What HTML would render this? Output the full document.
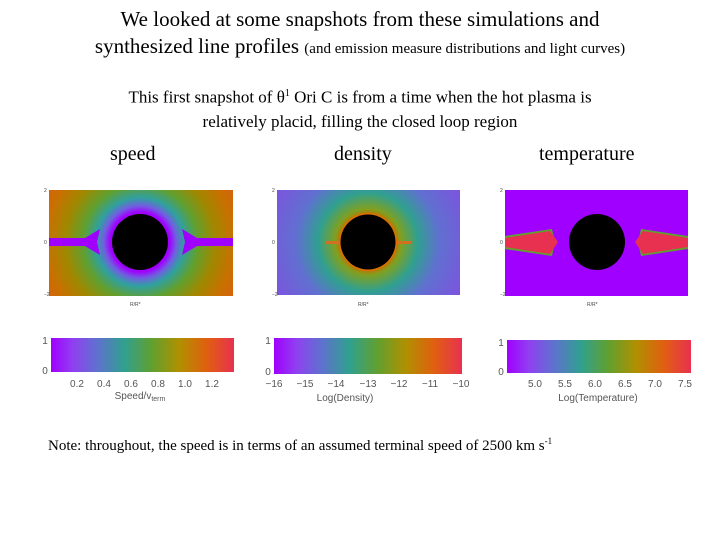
<!DOCTYPE html>
<html><head><meta charset="utf-8"><style>
body{margin:0;background:#fff;width:720px;height:540px;overflow:hidden;font-family:"Liberation Serif",serif;}
.t{position:absolute;left:0;width:720px;text-align:center;color:#000;}
</style></head><body>
<div class="t" style="top:6px;font-size:21px;line-height:27px">We looked at some snapshots from these simulations and<br>synthesized line profiles <span style="font-size:15px">(and emission measure distributions and light curves)</span></div>
<div class="t" style="top:82px;font-size:17px;line-height:24px">This first snapshot of θ<sup style="font-size:10px">1</sup> Ori C is from a time when the hot plasma is<br>relatively placid, filling the closed loop region</div>
<div style="position:absolute;left:110px;top:143px;font-size:20px">speed</div>
<div style="position:absolute;left:334px;top:143px;font-size:20px">density</div>
<div style="position:absolute;left:539px;top:143px;font-size:20px">temperature</div>
<div style="position:absolute;left:48px;top:436px;font-size:15px">Note: throughout, the speed is in terms of an assumed terminal speed of 2500 km s<sup style="font-size:9px">-1</sup></div>
<svg width="720" height="540" style="position:absolute;left:0;top:0" font-family="Liberation Sans,sans-serif">
<defs>
<linearGradient id="rb" x1="0" x2="1" y1="0" y2="0">
<stop offset="0" stop-color="#a000ff"/><stop offset="0.12" stop-color="#9040f0"/><stop offset="0.25" stop-color="#6070d0"/><stop offset="0.4" stop-color="#30a090"/><stop offset="0.55" stop-color="#60a030"/><stop offset="0.7" stop-color="#b09000"/><stop offset="0.85" stop-color="#e06010"/><stop offset="1" stop-color="#e83050"/>
</linearGradient>
<radialGradient id="sp" cx="140" cy="242" r="110" gradientUnits="userSpaceOnUse">
<stop offset="0.27" stop-color="#a000ff"/><stop offset="0.33" stop-color="#7060e0"/><stop offset="0.4" stop-color="#30a0a0"/><stop offset="0.52" stop-color="#60a030"/><stop offset="0.68" stop-color="#a08800"/><stop offset="0.85" stop-color="#c87000"/><stop offset="1" stop-color="#d86010"/>
</radialGradient>
<radialGradient id="de" cx="368" cy="242" r="110" gradientUnits="userSpaceOnUse">
<stop offset="0.25" stop-color="#c07000"/><stop offset="0.3" stop-color="#80a020"/><stop offset="0.45" stop-color="#30a090"/><stop offset="0.65" stop-color="#6070d0"/><stop offset="1" stop-color="#8050e0"/>
</radialGradient>
</defs>
<!-- speed -->
<rect x="49" y="190" width="184" height="106" fill="url(#sp)"/>
<polygon points="49,238 85,238 100,229 97,242 100,255 85,246 49,246" fill="#a000ff"/>
<polygon points="233,238 197,238 182,229 185,242 182,255 197,246 233,246" fill="#a000ff"/>
<circle cx="140" cy="242" r="28" fill="#000"/>
<!-- density -->
<rect x="277" y="190" width="183" height="105" fill="url(#de)"/>
<rect x="325" y="241" width="86" height="3" fill="#d07020"/>
<circle cx="368" cy="242" r="29" fill="#e07000"/>
<circle cx="368" cy="242" r="27.5" fill="#000"/>
<!-- temperature -->
<rect x="505" y="190" width="183" height="106" fill="#a000ff"/>
<polygon points="505,236 552,229 555,242 552,256 505,249" fill="#60a030"/>
<polygon points="505,238 550,231 558,242 550,254 505,247" fill="#e83050"/>
<polygon points="688,236 641,229 638,242 641,256 688,249" fill="#60a030"/>
<polygon points="688,238 643,231 635,242 643,254 688,247" fill="#e83050"/>
<circle cx="597" cy="242" r="28" fill="#000"/>
<g font-size="5" fill="#444">
<text x="44" y="192">2</text><text x="44" y="244">0</text><text x="44" y="296">−2</text>
<text x="272" y="192">2</text><text x="272" y="244">0</text><text x="272" y="296">−2</text>
<text x="500" y="192">2</text><text x="500" y="244">0</text><text x="500" y="296">−2</text>
<text x="130" y="306">R/R*</text><text x="358" y="306">R/R*</text><text x="587" y="306">R/R*</text>
</g>
<!-- colorbars -->
<rect x="51" y="338" width="183" height="34" fill="url(#rb)"/>
<rect x="274" y="338" width="188" height="36" fill="url(#rb)"/>
<rect x="507" y="340" width="184" height="33" fill="url(#rb)"/>
<g font-size="10" fill="#555" text-anchor="middle">
<text x="45" y="344">1</text><text x="45" y="374">0</text>
<text x="268" y="344">1</text><text x="268" y="375">0</text>
<text x="501" y="346">1</text><text x="501" y="375">0</text>
<text x="77" y="387">0.2</text><text x="104" y="387">0.4</text><text x="131" y="387">0.6</text><text x="158" y="387">0.8</text><text x="185" y="387">1.0</text><text x="212" y="387">1.2</text>
<text x="140" y="399">Speed/v<tspan font-size="7" dy="2">term</tspan></text>
<text x="274" y="387">−16</text><text x="305" y="387">−15</text><text x="336" y="387">−14</text><text x="368" y="387">−13</text><text x="399" y="387">−12</text><text x="430" y="387">−11</text><text x="461" y="387">−10</text>
<text x="345" y="401">Log(Density)</text>
<text x="535" y="387">5.0</text><text x="565" y="387">5.5</text><text x="595" y="387">6.0</text><text x="625" y="387">6.5</text><text x="655" y="387">7.0</text><text x="685" y="387">7.5</text>
<text x="598" y="401">Log(Temperature)</text>
</g>
</svg>
</body></html>
